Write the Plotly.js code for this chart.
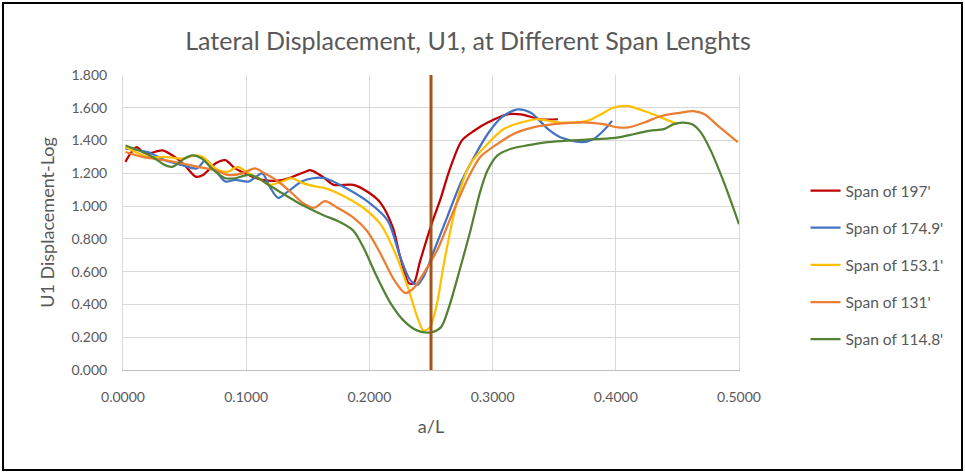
<!DOCTYPE html>
<html>
<head>
<meta charset="utf-8">
<script src="https://cdn.plot.ly/plotly-3.0.1.min.js"></script>
<style>
  html, body { margin: 0; padding: 0; background: #fff; }
  #wrap { position: relative; width: 965px; height: 472px; }
  #chart { position: absolute; left: 0; top: 0; width: 965px; height: 472px; }
  #frame { position: absolute; left: 2px; top: 2px; width: 957px; height: 465px; border: 2px solid #000; pointer-events: none; }
</style>
</head>
<body>
<div id="wrap"><div id="chart"></div><div id="frame"></div></div>
<script>
// ---- Data ----
const seriesNames = ["Span of 197'", "Span of 174.9'", "Span of 153.1'", "Span of 131'", "Span of 114.8'"];

const x197 = [0.002,0.006,0.011,0.016,0.020,0.032,0.042,0.050,0.059,0.065,0.075,0.083,0.091,0.102,0.113,0.130,0.148,0.152,0.162,0.171,0.187,0.200,0.209,0.219,0.225,0.232,0.236,0.241,0.250,0.258,0.265,0.275,0.285,0.296,0.312,0.323,0.339,0.353];
const y197 = [1.27,1.32,1.36,1.33,1.32,1.34,1.30,1.25,1.18,1.19,1.26,1.28,1.23,1.19,1.16,1.16,1.21,1.22,1.18,1.13,1.13,1.08,1.02,0.87,0.69,0.53,0.53,0.66,0.88,1.05,1.22,1.40,1.46,1.51,1.56,1.56,1.53,1.53];

const x1749 = [0.002,0.020,0.034,0.048,0.060,0.067,0.075,0.083,0.091,0.102,0.113,0.119,0.126,0.134,0.145,0.154,0.164,0.176,0.200,0.215,0.225,0.233,0.239,0.244,0.252,0.263,0.274,0.285,0.296,0.307,0.320,0.331,0.345,0.355,0.372,0.382,0.390,0.397];
const y1749 = [1.35,1.33,1.28,1.25,1.23,1.28,1.22,1.15,1.16,1.15,1.20,1.12,1.05,1.09,1.15,1.17,1.17,1.13,1.02,0.91,0.69,0.55,0.52,0.57,0.72,0.93,1.14,1.30,1.44,1.54,1.59,1.57,1.47,1.42,1.39,1.41,1.46,1.52];

const x1531 = [0.002,0.020,0.034,0.048,0.059,0.065,0.075,0.085,0.093,0.102,0.110,0.119,0.129,0.137,0.146,0.156,0.164,0.182,0.195,0.209,0.220,0.231,0.239,0.244,0.249,0.255,0.260,0.268,0.274,0.282,0.296,0.309,0.323,0.336,0.355,0.377,0.388,0.398,0.410,0.423,0.437,0.450];
const y1531 = [1.36,1.30,1.30,1.29,1.31,1.30,1.23,1.21,1.24,1.20,1.17,1.13,1.15,1.17,1.14,1.12,1.11,1.05,0.99,0.89,0.73,0.51,0.32,0.24,0.26,0.41,0.63,0.93,1.11,1.26,1.38,1.47,1.51,1.53,1.51,1.52,1.56,1.60,1.61,1.58,1.54,1.50];

const x131 = [0.002,0.016,0.034,0.048,0.061,0.075,0.085,0.097,0.107,0.115,0.126,0.137,0.146,0.155,0.164,0.174,0.187,0.198,0.209,0.220,0.229,0.236,0.244,0.255,0.266,0.280,0.290,0.304,0.317,0.333,0.350,0.377,0.390,0.402,0.410,0.423,0.437,0.453,0.463,0.472,0.483,0.499];
const y131 = [1.33,1.30,1.28,1.26,1.24,1.22,1.19,1.20,1.23,1.20,1.15,1.08,1.02,0.99,1.03,0.99,0.93,0.85,0.71,0.55,0.47,0.50,0.59,0.73,0.93,1.17,1.30,1.38,1.44,1.48,1.50,1.51,1.50,1.48,1.48,1.51,1.55,1.57,1.58,1.56,1.49,1.39];

const x1148 = [0.002,0.016,0.024,0.034,0.040,0.050,0.056,0.064,0.072,0.083,0.091,0.102,0.110,0.118,0.129,0.140,0.150,0.164,0.174,0.187,0.195,0.206,0.217,0.228,0.239,0.250,0.258,0.264,0.274,0.282,0.290,0.296,0.304,0.315,0.328,0.345,0.361,0.388,0.402,0.415,0.428,0.439,0.447,0.454,0.462,0.469,0.477,0.488,0.500];
const y1148 = [1.37,1.33,1.30,1.25,1.24,1.29,1.31,1.29,1.23,1.17,1.17,1.19,1.17,1.13,1.08,1.03,0.99,0.94,0.91,0.85,0.75,0.57,0.41,0.30,0.24,0.23,0.26,0.37,0.63,0.85,1.09,1.22,1.31,1.35,1.37,1.39,1.40,1.41,1.42,1.44,1.46,1.47,1.50,1.51,1.50,1.45,1.34,1.14,0.89];

const xSeries = [x197, x1749, x1531, x131, x1148];
const ySeries = [y197, y1749, y1531, y131, y1148];
const colors = ["#C00000", "#4472C4", "#FFC000", "#ED7D31", "#548235"];

const markerLineX = 0.25;           // vertical reference line (a/L)
const xTickVals = [0, 0.1, 0.2, 0.3, 0.4, 0.5];
const yTickVals = [0, 0.2, 0.4, 0.6, 0.8, 1.0, 1.2, 1.4, 1.6, 1.8];

// ---- Build traces ----
const traces = seriesNames.map((name, i) => ({
  type: 'scatter', mode: 'lines', name: name,
  x: xSeries[i], y: ySeries[i],
  legendgroup: 'g' + i,
  line: { color: colors[i], width: 2.25, shape: 'spline', smoothing: 0.8 },
  hoverinfo: 'x+y+name'
}));

const FONT = 'Lato, "Open Sans", sans-serif';
const layout = {
  width: 965, height: 472,
  margin: { l: 123, r: 226, t: 75, b: 102 },
  paper_bgcolor: '#fff', plot_bgcolor: '#fff',
  font: { family: FONT, color: '#595959', size: 14 },
  title: { text: 'Lateral Displacement, U1, at Different Span Lenghts',
           font: { family: FONT, size: 25, color: '#595959' },
           x: 0.485, xanchor: 'center', y: 0.912, yanchor: 'middle' },
  xaxis: {
    range: [0, 0.5], tickvals: xTickVals, tickformat: '.4f',
    showgrid: true, gridcolor: '#D9D9D9', gridwidth: 1,
    showline: true, linecolor: '#BFBFBF', linewidth: 1,
    zeroline: false, ticks: '', ticklabelstandoff: 14,
    tickfont: { family: FONT, size: 14, color: '#595959' },
    title: { text: 'a/L', font: { family: FONT, size: 18, color: '#595959' }, standoff: 16 }
  },
  yaxis: {
    range: [0, 1.8], tickvals: yTickVals, tickformat: '.3f',
    showgrid: true, gridcolor: '#D9D9D9', gridwidth: 1,
    showline: true, linecolor: '#D9D9D9', mirror: true, linewidth: 1,
    zeroline: false, ticks: '', ticklabelstandoff: 12,
    tickfont: { family: FONT, size: 14, color: '#595959' },
    title: { text: 'U1 Displacement-Log', font: { family: FONT, size: 18, color: '#595959' }, standoff: 12 }
  },
  legend: {
    x: 1.108, xanchor: 'left', y: 0.356, yanchor: 'middle',
    font: { family: FONT, size: 15.5, color: '#595959' },
    tracegroupgap: 14, bgcolor: 'rgba(0,0,0,0)'
  },
  shapes: [{
    type: 'line', xref: 'x', yref: 'paper',
    x0: markerLineX, x1: markerLineX, y0: 0, y1: 1,
    line: { color: '#A5521B', width: 3 }
  }],
  showlegend: true
};

Plotly.newPlot('chart', traces, layout, { displayModeBar: false, staticPlot: true });
</script>
</body>
</html>
